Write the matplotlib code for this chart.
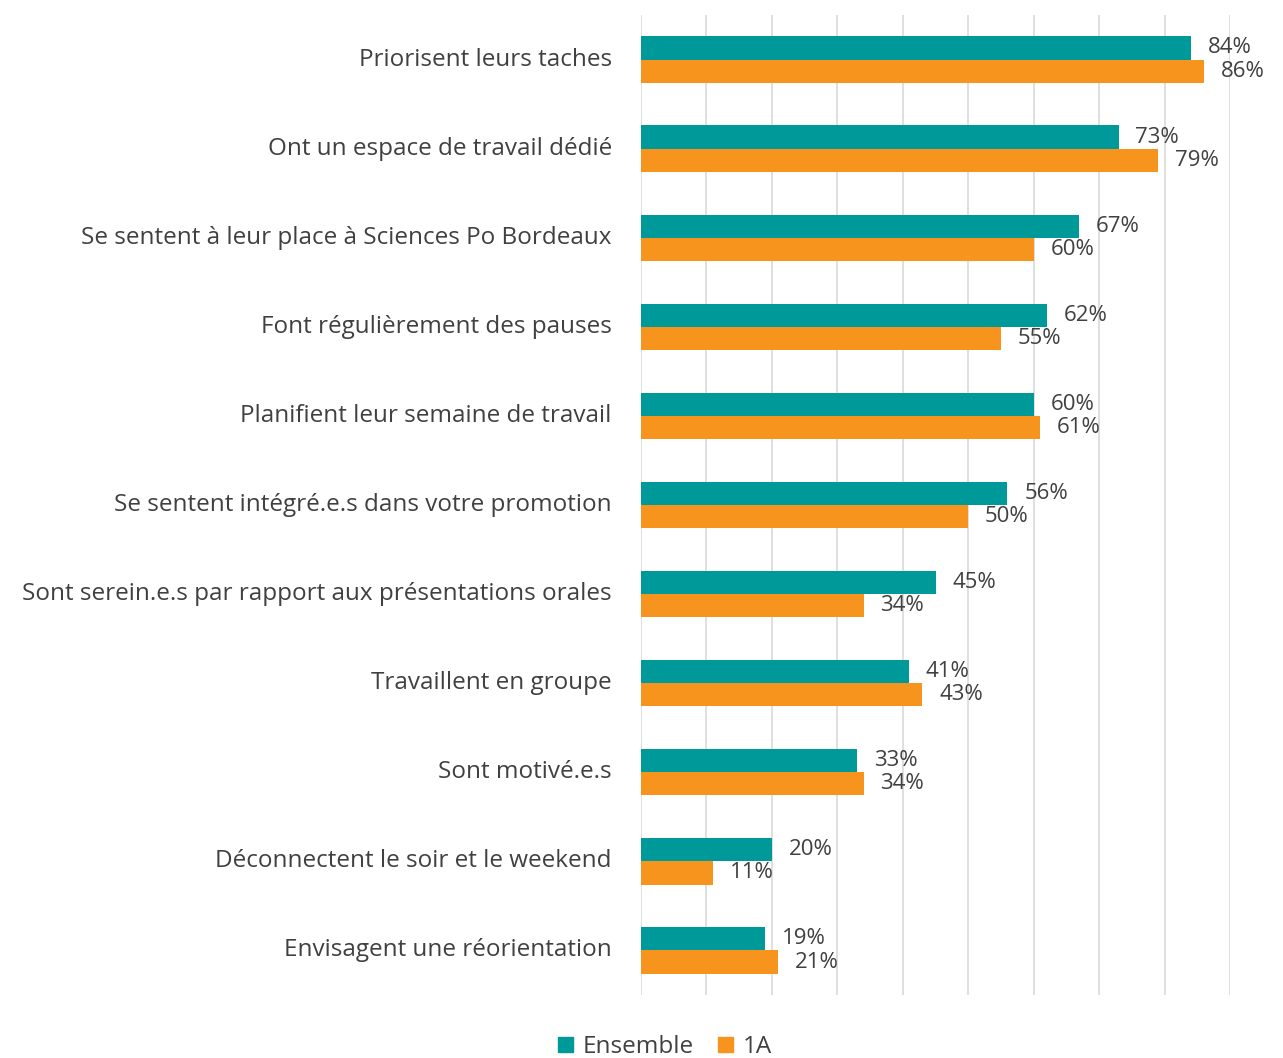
import matplotlib
matplotlib.use("Agg")
import matplotlib.pyplot as plt
import numpy as np

categories = [
    "Priorisent leurs taches",
    "Ont un espace de travail dédié",
    "Se sentent à leur place à Sciences Po Bordeaux",
    "Font régulièrement des pauses",
    "Planifient leur semaine de travail",
    "Se sentent intégré.e.s dans votre promotion",
    "Sont serein.e.s par rapport aux présentations orales",
    "Travaillent en groupe",
    "Sont motivé.e.s",
    "Déconnectent le soir et le weekend",
    "Envisagent une réorientation",
]
ensemble = [84, 73, 67, 62, 60, 56, 45, 41, 33, 20, 19]
un_a = [86, 79, 60, 55, 61, 50, 34, 43, 34, 11, 21]
series_names = ["Ensemble", "1A"]
colors = ["#009999", "#F7941D"]

plt.rcParams['font.family'] = ['Open Sans', 'DejaVu Sans']

fig = plt.figure(figsize=(12.83, 10.58), dpi=100)
ax = fig.add_axes([641/1283, 1-995/1058, (1230-641)/1283, (995-15)/1058])

n = len(categories)
y = np.arange(n)
h = 0.26
ax.barh(y - h/2, ensemble, height=h, color=colors[0], label=series_names[0], zorder=3)
ax.barh(y + h/2, un_a, height=h, color=colors[1], label=series_names[1], zorder=3)

for yi, v in zip(y, ensemble):
    ax.annotate(f"{v}%", (v, yi - h/2), xytext=(12, 0), textcoords="offset points",
                va="center", ha="left", fontsize=16, color="#404040")
for yi, v in zip(y, un_a):
    ax.annotate(f"{v}%", (v, yi + h/2), xytext=(12, 0), textcoords="offset points",
                va="center", ha="left", fontsize=16, color="#404040")

ax.set_xlim(0, 90)
ax.set_ylim(n - 0.5, -0.5)
ax.set_xticks(np.arange(0, 91, 10))
ax.tick_params(axis='x', labelbottom=False, length=0)
ax.set_yticks(y)
ax.set_yticklabels(categories, fontsize=17.5, color="#404040")
for lbl in ax.get_yticklabels():
    lbl.set_verticalalignment("center")
ax.tick_params(axis='y', length=0, pad=21)
ax.grid(axis='x', color="#d9d9d9", linewidth=1.2, zorder=0)
for s in ax.spines.values():
    s.set_visible(False)

handles = [plt.Rectangle((0, 0), 1, 1, color=c) for c in colors]
fig.legend(handles, series_names, loc="center", bbox_to_anchor=(665/1283, 1-1047/1058),
           ncol=2, frameon=False, fontsize=17.5, handlelength=0.6, handleheight=0.6,
           handletextpad=0.4, columnspacing=1.0, labelcolor="#404040")

fig.savefig("out.png", dpi=100)
